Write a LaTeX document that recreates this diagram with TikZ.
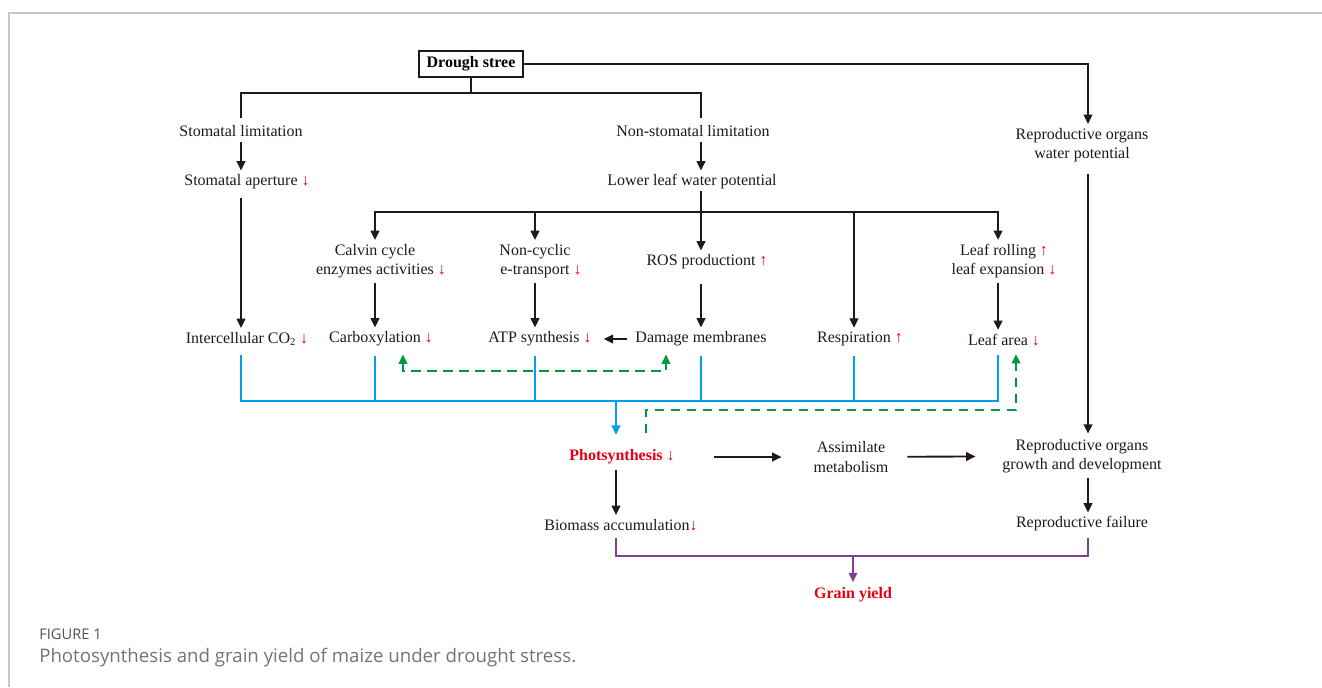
\documentclass[tikz,border=0pt]{standalone}
\usepackage{fontspec}
\setmainfont{Liberation Serif}
\newfontfamily\capfont{Open Sans}
\usepackage{tikz}
\usetikzlibrary{arrows.meta,calc}
\definecolor{figred}{HTML}{E60012}
\definecolor{figblue}{HTML}{00A0E9}
\definecolor{figgreen}{HTML}{009944}
\definecolor{figpurple}{HTML}{7F3F98}
\definecolor{figline}{HTML}{231815}
\newcommand*{\arrdn}{\textcolor{figred}{↓}}
\newcommand*{\arrup}{\textcolor{figred}{↑}}
\tikzstyle{txt}=[font=\fontsize{12}{14.3}\selectfont,align=center,inner sep=0pt,text=figline]
\tikzstyle{hot}=[txt,font=\fontsize{12}{14.3}\selectfont\bfseries,text=figred]
\tikzstyle{box}=[draw=figline,line width=1.4pt,minimum width=78pt,minimum height=19.5pt,inner sep=0pt,font=\fontsize{12}{14.3}\selectfont\bfseries]
\tikzstyle{blk}=[line width=1.4pt,draw=figline]
\tikzstyle{arr}=[blk,-{Triangle[length=7pt,width=6.5pt]},shorten <=4pt,shorten >=3pt]
\tikzstyle{bline}=[line width=1.4pt,draw=figblue]
\tikzstyle{barr}=[bline,-{Triangle[length=7pt,width=6.5pt]}]
\tikzstyle{gdash}=[line width=1.4pt,draw=figgreen,dash pattern=on 7pt off 5pt,>={Triangle[length=7pt,width=6.5pt]}]
\tikzstyle{pline}=[line width=1.1pt,draw=figpurple]
\tikzstyle{parr}=[pline,-{Triangle[length=7pt,width=6.5pt]}]
\tikzstyle{frame}=[line width=1.1pt,draw=black!22]

\begin{document}
\begin{tikzpicture}[x=0.75pt,y=-0.75pt]
  \useasboundingbox (0,0) rectangle (1322,687);
  \draw[frame] (9,687) -- (9,13) -- (1322,13);
  % top part
  \node[box] (drought) at (471,64) {Drough stree};
  \node[txt] (stomlim) at (241,131) {Stomatal limitation};
  \node[txt] (nonstom) at (693,131) {Non-stomatal limitation};
  \node[txt] (repwp) at (1082,145) {Reproductive organs\\water potential};
  \node[txt] (stomap) at (241,182) {Stomatal aperture\rlap{ \arrdn}};
  \node[txt] (lowleaf) at (692,182) {Lower leaf water potential};
  % middle rows
  \node[txt] (calvin) at (375,261) {Calvin cycle\\enzymes activities\rlap{ \arrdn}};
  \node[txt] (noncyc) at (535,261) {Non-cyclic\\e-transport\rlap{ \arrdn}};
  \node[txt] (ros) at (701,262) {ROS productiont\rlap{ \arrup}};
  \node[txt] (leafroll) at (998,261) {Leaf rolling\rlap{ \arrup}\\leaf expansion\rlap{ \arrdn}};
  \node[txt] (interco) at (241,339) {Intercellular CO\textsubscript{2}\rlap{ \arrdn}};
  \node[txt] (carbox) at (375,339) {Carboxylation\rlap{ \arrdn}};
  \node[txt] (atp) at (540,339) {ATP synthesis \arrdn};
  \node[txt] (damage) at (701,339) {Damage membranes};
  \node[txt] (resp) at (854,339) {Respiration\rlap{ \arrup}};
  \node[txt] (leafarea) at (998,340) {Leaf area\rlap{ \arrdn}};
  % bottom part
  \node[hot] (photo) at (616,457) {Photsynthesis\rlap{ \arrdn}};
  \node[txt] (assim) at (851,457) {Assimilate\\metabolism};
  \node[txt] (repgrow) at (1082,456) {Reproductive organs\\growth and development};
  \node[txt] (biomass) at (621,525) {Biomass accumulation\arrdn};
  \node[txt] (repfail) at (1082,524) {Reproductive failure};
  \node[hot] (grain) at (853,595) {Grain yield};
  % corners
  \coordinate (split) at (471,93);
  \coordinate (rcorner) at (1088,64);
  \coordinate (nsplit) at (701,212);
  \coordinate (bluebar) at (616,401);
  \coordinate (purplebar) at (853,556);
  \coordinate (gleft) at (403,371);
  \coordinate (gright) at (666,371);
  \coordinate (gstart) at (646,433);
  \coordinate (gend) at (1016,410);

  \draw[blk] (drought) -- (split);
  \draw[blk,shorten >=5pt] (split) -| (stomlim);
  \draw[blk,shorten >=5pt] (split) -| (nonstom.north -| ros);
  \draw[arr,shorten <=0pt] (drought) -- (rcorner) -- (repwp.north -| rcorner);
  \draw[arr] (stomlim) -- (stomap);
  \draw[arr] (nonstom.south -| ros) -- (lowleaf.north -| ros);
  \draw[blk,shorten <=1pt] (lowleaf.south -| ros) -- (nsplit);
  \draw[arr,shorten <=0pt] (nsplit) -| (calvin);
  \draw[arr,shorten <=0pt] (nsplit) -| (noncyc);
  \draw[arr,shorten <=0pt] (nsplit) -- (ros);
  \draw[arr,shorten <=0pt] (nsplit) -| (resp);
  \draw[arr,shorten <=0pt] (nsplit) -| (leafroll);
  \draw[arr,shorten <=6pt] (stomap) -- (interco);
  \draw[arr] (calvin) -- (carbox);
  \draw[arr] (noncyc) -- (noncyc |- atp.north);
  \draw[arr,shorten <=11pt] (ros) -- (damage);
  \draw[arr] (leafroll) -- (leafarea);
  \draw[arr,shorten <=6pt,shorten >=9pt] (damage) -- (atp);
  % to photosynthesis
  \foreach \n in {interco,carbox,damage,resp,leafarea} {
    \draw[bline,shorten <=7pt] (\n) |- (bluebar);
  }
  \draw[bline,shorten <=7pt] (atp.south -| noncyc) |- (bluebar);
  \draw[barr,shorten >=11pt] (bluebar) -- (photo);
  \draw[gdash,<->,shorten <=6pt,shorten >=6pt] (carbox.south -| gleft) |- (gright) -- (damage.south -| gright);
  \draw[gdash,->,shorten >=6pt] (gstart) |- (gend) -- (leafarea.south -| gend);
  % yield
  \draw[arr,shorten <=38pt,shorten >=24pt] (photo) -- (assim);
  \draw[arr,shorten <=14pt,shorten >=20pt] (assim) -- (repgrow);
  \draw[arr,shorten <=9pt,shorten >=4pt] (repwp.south -| rcorner) -- (repgrow.north -| rcorner);
  \draw[arr] (photo) -- (biomass.north -| photo);
  \draw[arr] (repgrow.south -| rcorner) -- (repfail.north -| rcorner);
  \draw[pline,shorten <=5pt,shorten >=5pt] (biomass.south -| photo) |- (purplebar) -| (repfail.south -| rcorner);
  \draw[parr,shorten >=4pt] (purplebar) -- (grain);
  % caption
  \node[anchor=west,inner sep=0pt,font=\capfont\fontsize{11}{13}\selectfont,text=black!68] (figno) at (39,634) {FIGURE 1};
  \node[anchor=west,inner sep=0pt,font=\capfont\fontsize{14}{16}\selectfont,text=black!55] (capt) at (39,658) {Photosynthesis and grain yield of maize under drought stress.};
\end{tikzpicture}
\end{document}
